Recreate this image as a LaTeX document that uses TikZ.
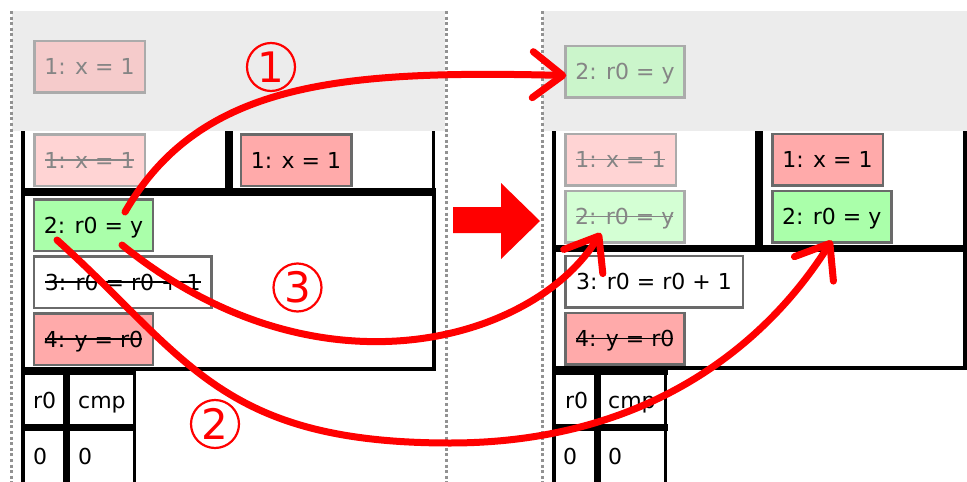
\documentclass[tikz,border=0pt]{standalone}
\usepackage{fontspec}
\setmainfont{DejaVu Sans}
\usepackage{tikz}
\usetikzlibrary{calc}
\usetikzlibrary{arrows.meta,positioning}
\definecolor{bandgray}{HTML}{ECECEC}
\definecolor{dotgray}{HTML}{929292}
\definecolor{pinkfill}{HTML}{FFAAAA}
\definecolor{greenfill}{HTML}{AAFFAA}
\definecolor{pinkpale}{HTML}{FFD4D4}
\definecolor{greenpale}{HTML}{D4FFD4}
\definecolor{pinkband}{HTML}{F5CBCB}
\definecolor{greenband}{HTML}{CBF5CB}
\definecolor{edgedark}{HTML}{6A6A6A}
\definecolor{edgepale}{HTML}{ABABAB}
\definecolor{textpale}{HTML}{858585}
\newcommand{\opsize}{\fontsize{22pt}{26pt}\selectfont}

\tikzset{
  op/.style={draw=edgedark, line width=2.5pt, minimum height=51.5pt, minimum width=#1,
    inner sep=0pt, text height=16pt, text depth=0pt, font=\opsize},
  op/.default=110.5pt,
  pale/.style={draw=edgepale, text=textpale},
  struck/.style={path picture={\draw[#1, line width=1.3pt]
    ([xshift=11pt]path picture bounding box.west) -- ([xshift=-11pt]path picture bounding box.east);}},
  struck/.default=black,
  wall/.style={line width=3.5pt},
  thickwall/.style={line width=7.5pt},
  divider/.style={dotgray, line width=3pt, dash pattern=on 3pt off 2.6pt},
  regtext/.style={anchor=west, inner sep=0pt, font=\opsize, text height=16pt, text depth=0pt},
  flow/.style={draw=red, line width=7pt, line cap=round, -{Straight Barb[length=30pt,width=46pt,round]}},
  badge/.style={circle, draw=red, line width=2.2pt, text=red, minimum size=48pt, inner sep=0pt,
    font=\fontsize{42pt}{42pt}\selectfont}
}

\begin{document}
\begin{tikzpicture}[x=1pt,y=-1pt]
  \useasboundingbox (0,0) rectangle (967,482);
  \fill[bandgray] (12,11) rectangle (445,131);
  \fill[bandgray] (543,11) rectangle (967,131);
  \draw[divider] (11.5,11) -- (11.5,482);
  \draw[divider] (446,11) -- (446,482);
  \draw[divider] (542.5,11) -- (542.5,482);

  \draw[wall] (23,131) -- (23,482);
  \draw[thickwall] (229,131) -- (229,192);
  \draw[wall] (433.5,131) -- (433.5,192);
  \draw[wall] (23,192) rectangle (434,369);
  \draw[thickwall] (23,192) -- (435.5,192);
  \draw[thickwall] (23,371.5) -- (136,371.5);
  \draw[thickwall] (23,427.5) -- (136,427.5);
  \draw[thickwall] (66.5,369) -- (66.5,482);
  \draw[wall] (134.5,369) -- (134.5,482);

  \draw[wall] (554,131) -- (554,482);
  \draw[thickwall] (759,131) -- (759,248);
  \draw[wall] (965,131) -- (965,248);
  \draw[wall] (554,248) rectangle (965,368);
  \draw[thickwall] (554,248.5) -- (967,248.5);
  \draw[thickwall] (554,371.5) -- (667.5,371.5);
  \draw[thickwall] (554,427.5) -- (667.5,427.5);
  \draw[thickwall] (597.5,369) -- (597.5,482);
  \draw[wall] (665.5,369) -- (665.5,482);

  \node[op, pale, fill=pinkband] (Lpend) at (89.5,66.5) {1: x = 1};
  \node[op, pale, fill=pinkpale, struck=textpale] (Lx1old) at (89.5,160) {1: x = 1};
  \node[op, fill=pinkfill] (Lx1) at (296,160) {1: x = 1};
  \node[op=119pt, fill=greenfill] (Lr0y) at (93.5,225) {2: r0 = y};
  \node[op=177.5pt, fill=white, struck, below=3pt of Lr0y.south west, anchor=north west] (Linc) {3: r0 = r0 + 1};
  \node[op=119pt, fill=pinkfill, struck, below=3pt of Linc.south west, anchor=north west] (Lst) {4: y = r0};

  \node[regtext] (Lreg0) at (33,400) {r0};
  \node[regtext] (Lregc) at (78,400) {cmp};
  \node[regtext] (Lval0) at (33,456) {0};
  \node[regtext] (Lvalc) at (78,456) {0};

  \node[op=119pt, pale, fill=greenband] (Rpend) at (625,71.5) {2: r0 = y};
  \node[op, pale, fill=pinkpale, struck=textpale] (Rx1old) at (620.5,159.5) {1: x = 1};
  \node[op=119pt, pale, fill=greenpale, struck=textpale, below=3pt of Rx1old.south west, anchor=north west] (Rr0yold) {2: r0 = y};
  \node[op, fill=pinkfill] (Rx1) at (827.5,159.5) {1: x = 1};
  \node[op=119pt, fill=greenfill, below=3pt of Rx1.south west, anchor=north west] (Rr0y) {2: r0 = y};
  \node[op=177.5pt, fill=white] (Rinc) at (654,281.5) {3: r0 = r0 + 1};
  \node[op=119pt, fill=pinkfill, struck, below=3pt of Rinc.south west, anchor=north west] (Rst) {4: y = r0};

  \node[regtext] (Rreg0) at (565,400) {r0};
  \node[regtext] (Rregc) at (608,400) {cmp};
  \node[regtext] (Rval0) at (563,456) {0};
  \node[regtext] (Rvalc) at (608,456) {0};

  \fill[red] (453,207) -- (501,207) -- (501,183) -- (540,221) -- (501,259) -- (501,233) -- (453,233) -- cycle;

  \draw[flow] ($(Lr0y.center)+(31.5,-13)$) .. controls (200,82) and (340,70) .. ($(Rpend.west)+(2,4)$);
  \draw[flow] ($(Lr0y.center)+(28.5,20)$) .. controls (320,405) and (535,340) .. ($(Rr0yold.center)+(-24,16.5)$);
  \draw[flow] ($(Lr0y.center)+(-36.5,15)$) .. controls (187,357) and (220,443) .. (450,443)
    .. controls (650,443) and (768,342) .. ($(Rr0y.south)+(0,-3)$);

  \node[badge] (num1) at (271,67) {1};
  \node[badge] (num2) at (215,424) {2};
  \node[badge] (num3) at (297.5,287.5) {3};
\end{tikzpicture}
\end{document}
